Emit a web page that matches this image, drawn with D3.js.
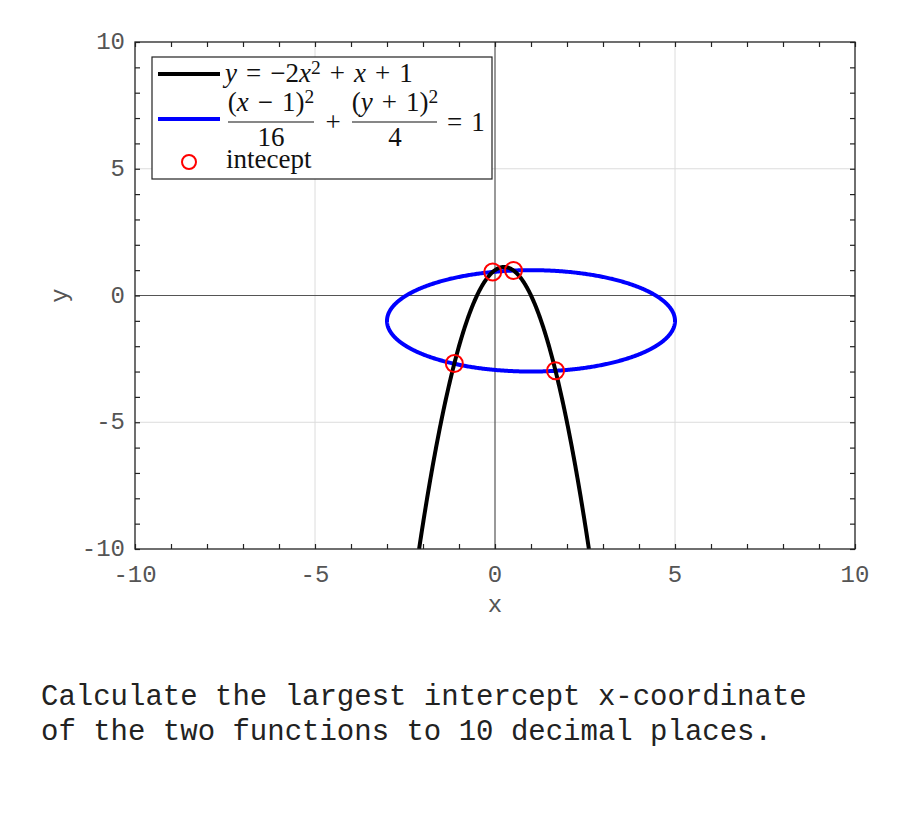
<!DOCTYPE html>
<html>
<head>
<meta charset="utf-8">
<script src="https://cdn.jsdelivr.net/npm/d3@7"></script>
<style>
  html, body { margin: 0; padding: 0; background: #fff; }
  svg { display: block; }
</style>
</head>
<body>
<svg id="chart" width="900" height="825"></svg>
<script>
// ---- data ----
const xDomain = [-10, 10];
const yDomain = [-10, 10];
const majorTicks = [-10, -5, 0, 5, 10];
const minorTicks = d3.range(-10, 11, 1);
const gridValues = [-5, 5];
// parabola y = a x^2 + b x + c
const parabolaCoef = [-2, 1, 1];
// ellipse (x-h)^2/A^2 + (y-k)^2/B^2 = 1 : [h, k, A, B]
const ellipseParams = [1, -1, 4, 2];
// intercepts (read / solved)
const interceptX = [-1.1300, -0.0638, 0.5137, 1.6810];
const interceptY = [-2.6838, 0.9281, 0.9860, -2.9707];
const questionLines = [
  "Calculate the largest intercept x-coordinate",
  "of the two functions to 10 decimal places."
];

// ---- layout ----
const svg = d3.select("#chart");
const L = 135, R = 855, T = 42, B = 549;
const x = d3.scaleLinear().domain(xDomain).range([L, R]);
const y = d3.scaleLinear().domain(yDomain).range([B, T]);
const mono = "'Liberation Mono', 'Courier New', monospace";
const serif = "'Liberation Serif', 'Times New Roman', serif";

// grid
const grid = svg.append("g");
gridValues.forEach(v => {
  grid.append("line").attr("x1", x(v)).attr("x2", x(v)).attr("y1", T).attr("y2", B)
    .attr("stroke", "#dcdcdc").attr("stroke-width", 1);
  grid.append("line").attr("x1", L).attr("x2", R).attr("y1", y(v)).attr("y2", y(v))
    .attr("stroke", "#dcdcdc").attr("stroke-width", 1);
});
// zero axes
svg.append("line").attr("x1", x(0)).attr("x2", x(0)).attr("y1", T).attr("y2", B)
  .attr("stroke", "#555").attr("stroke-width", 1.2);
svg.append("line").attr("x1", L).attr("x2", R).attr("y1", y(0)).attr("y2", y(0))
  .attr("stroke", "#555").attr("stroke-width", 1.2);

// axes with inward minor ticks on all four sides
const tickLen = 5;
const axG = svg.append("g");
axG.append("g").attr("transform", `translate(0,${B})`)
  .call(d3.axisBottom(x).tickValues(minorTicks).tickSize(-tickLen).tickFormat(""));
axG.append("g").attr("transform", `translate(0,${T})`)
  .call(d3.axisTop(x).tickValues(minorTicks).tickSize(-tickLen).tickFormat(""));
axG.append("g").attr("transform", `translate(${L},0)`)
  .call(d3.axisLeft(y).tickValues(minorTicks).tickSize(-tickLen).tickFormat(""));
axG.append("g").attr("transform", `translate(${R},0)`)
  .call(d3.axisRight(y).tickValues(minorTicks).tickSize(-tickLen).tickFormat(""));
axG.selectAll(".domain").remove();
axG.selectAll(".tick line").attr("stroke", "#222").attr("stroke-width", 1.2);

// tick labels
const fmt = v => (v < 0 ? "-" : "") + Math.abs(v);
svg.append("g").selectAll("text").data(majorTicks).join("text")
  .attr("x", d => x(d)).attr("y", B + 33)
  .attr("text-anchor", "middle")
  .attr("font-family", mono).attr("font-size", 24).attr("fill", "#555")
  .text(fmt);
svg.append("g").selectAll("text").data(majorTicks).join("text")
  .attr("x", L - 10).attr("y", d => y(d) + 7)
  .attr("text-anchor", "end")
  .attr("font-family", mono).attr("font-size", 24).attr("fill", "#555")
  .text(fmt);
// axis labels
svg.append("text").attr("x", x(0)).attr("y", 612).attr("text-anchor", "middle")
  .attr("font-family", mono).attr("font-size", 24).attr("fill", "#555").text("x");
svg.append("text").attr("transform", `translate(67,${y(0)}) rotate(-90)`)
  .attr("text-anchor", "middle")
  .attr("font-family", mono).attr("font-size", 24).attr("fill", "#555").text("y");

// clip
svg.append("clipPath").attr("id", "clip").append("rect")
  .attr("x", L).attr("y", T).attr("width", R - L).attr("height", B - T);
const plot = svg.append("g").attr("clip-path", "url(#clip)");

// ellipse curve
const [h, k, A, Bb] = ellipseParams;
const tVals = d3.range(0, 2 * Math.PI + 0.0001, Math.PI / 360);
const ellPts = tVals.map(t => [h + A * Math.cos(t), k + Bb * Math.sin(t)]);
const line = d3.line().x(d => x(d[0])).y(d => y(d[1]));
plot.append("path").datum(ellPts).attr("d", line)
  .attr("fill", "none").attr("stroke", "#0000ff").attr("stroke-width", 4);

// parabola curve
const [pa, pb, pc] = parabolaCoef;
const xr = [(-pb - Math.sqrt(pb * pb - 4 * pa * (pc - yDomain[0]))) / (2 * pa),
            (-pb + Math.sqrt(pb * pb - 4 * pa * (pc - yDomain[0]))) / (2 * pa)].sort((a, b) => a - b);
const parPts = d3.range(0, 501).map(i => {
  const xv = xr[0] + (xr[1] - xr[0]) * i / 500;
  return [xv, pa * xv * xv + pb * xv + pc];
});
plot.append("path").datum(parPts).attr("d", line)
  .attr("fill", "none").attr("stroke", "#000").attr("stroke-width", 4);

// intercepts
plot.selectAll("circle.ic").data(interceptX.map((d, i) => [d, interceptY[i]])).join("circle")
  .attr("class", "ic")
  .attr("cx", d => x(d[0])).attr("cy", d => y(d[1])).attr("r", 8.5)
  .attr("fill", "none").attr("stroke", "#ff0000").attr("stroke-width", 2);

// frame
svg.append("rect").attr("x", L).attr("y", T).attr("width", R - L).attr("height", B - T)
  .attr("fill", "none").attr("stroke", "#222").attr("stroke-width", 1.3);

// legend
const lg = svg.append("g");
lg.append("rect").attr("x", 152).attr("y", 57).attr("width", 340).attr("height", 122)
  .attr("fill", "#fff").attr("stroke", "#222").attr("stroke-width", 1.2);
lg.append("line").attr("x1", 158).attr("x2", 220).attr("y1", 74).attr("y2", 74)
  .attr("stroke", "#000").attr("stroke-width", 4);
lg.append("line").attr("x1", 158).attr("x2", 220).attr("y1", 119).attr("y2", 119)
  .attr("stroke", "#0000ff").attr("stroke-width", 4);
lg.append("circle").attr("cx", 189).attr("cy", 162).attr("r", 7)
  .attr("fill", "none").attr("stroke", "#ff0000").attr("stroke-width", 2);

const fs = 27;
const sp = "\u2004"; // three-per-em space around operators
function mathText(g, xPos, yPos, parts, anchor, size) {
  const f = size || fs;
  const t = g.append("text").attr("x", xPos).attr("y", yPos)
    .attr("font-family", serif).attr("font-size", f).attr("fill", "#111")
    .attr("text-anchor", anchor || "start").style("white-space", "pre");
  parts.forEach(p => {
    const s = t.append("tspan").text(p.t);
    if (p.i) s.attr("font-style", "italic");
    if (p.sup) s.attr("baseline-shift", "40%").attr("font-size", f * 0.72);
  });
  return t;
}
mathText(lg, 225, 82, [
  {t: "y", i: 1}, {t: `${sp}=${sp}\u22122`}, {t: "x", i: 1}, {t: "2", sup: 1},
  {t: `${sp}+${sp}`}, {t: "x", i: 1}, {t: `${sp}+${sp}1`}
]);
// fraction 1
mathText(lg, 271, 111, [{t: "("}, {t: "x", i: 1}, {t: `${sp}\u2212${sp}1)`}, {t: "2", sup: 1}], "middle");
lg.append("line").attr("x1", 228).attr("x2", 314).attr("y1", 122).attr("y2", 122)
  .attr("stroke", "#111").attr("stroke-width", 1.2);
mathText(lg, 271, 146, [{t: "16"}], "middle");
mathText(lg, 333, 131, [{t: "+"}], "middle");
// fraction 2
mathText(lg, 395, 111, [{t: "("}, {t: "y", i: 1}, {t: `${sp}+${sp}1)`}, {t: "2", sup: 1}], "middle");
lg.append("line").attr("x1", 352).attr("x2", 437).attr("y1", 122).attr("y2", 122)
  .attr("stroke", "#111").attr("stroke-width", 1.2);
mathText(lg, 395, 146, [{t: "4"}], "middle");
mathText(lg, 447, 131, [{t: `=${sp}1`}]);
mathText(lg, 226, 168, [{t: "intecept"}]);

// question text
svg.append("g").selectAll("text").data(questionLines).join("text")
  .attr("x", 41).attr("y", (d, i) => 705 + i * 35)
  .attr("font-family", mono).attr("font-size", 29).attr("fill", "#222")
  .style("white-space", "pre")
  .text(d => d);
</script>
</body>
</html>
